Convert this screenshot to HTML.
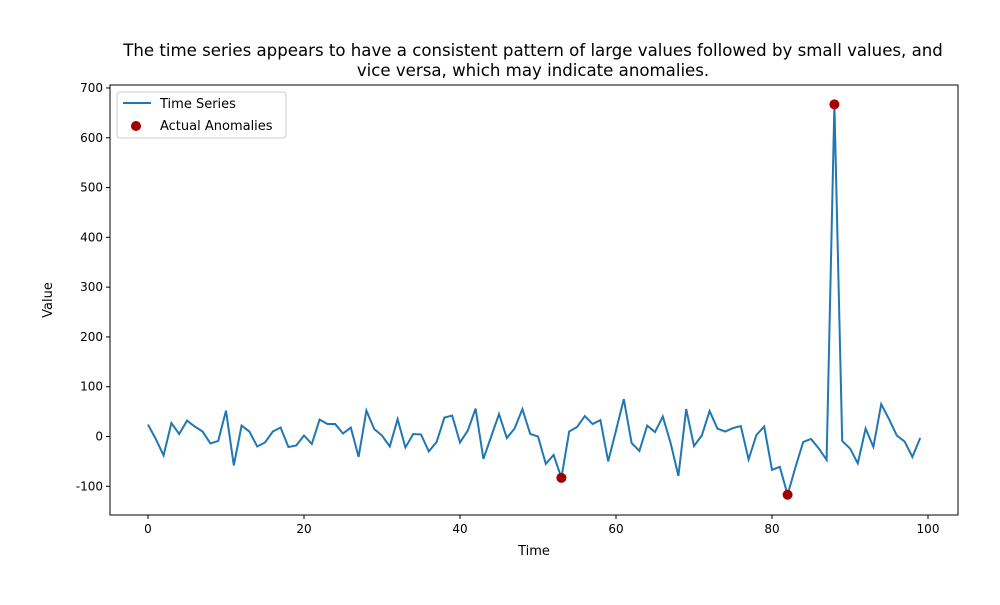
<!DOCTYPE html>
<html><head><meta charset="utf-8"><style>
body{margin:0;background:#fff;font-family:"Liberation Sans","DejaVu Sans",sans-serif}
svg text{font-family:"DejaVu Sans","Liberation Sans",sans-serif;fill:#000}
</style></head><body>
<svg id="chart" width="1000" height="600">
<rect width="1000" height="600" fill="#fff"/>
<g id="axes"></g>
</svg>
<script>
const values=[24,-5,-38,27,5,32,20,10,-14,-9,52,-58,22,10,-20,-12,10,18,-21,-18,2,-15,34,25,25,6,18,-41,52,15,2,-20,35,-22,5,4,-30,-11,38,42,-12,12,56,-45,0,45,-3,16,55,5,0,-55,-37,-83,10,19,41,25,33,-50,12,75,-13,-29,22,9,40,-13,-79,55,-19,2,51,16,10,17,21,-46,3,20,-67,-61,-117,-62,-11,-5,-24,-47,667,-9,-24,-54,16,-21,65,35,2,-10,-41,-3];
const anomalyIdx=[53,82,88];
const xTicks=[0,20,40,60,80,100];
const yTicks=[-100,0,100,200,300,400,500,600,700];
const L=110,R=958,T=85,B=515;
const xs=v=>148+v*7.8;
const ys=v=>436.5-v*0.4979;
const NS="http://www.w3.org/2000/svg";
const g=document.getElementById('axes');
function mk(t,a,p){const e=document.createElementNS(NS,t);for(const k in a)e.setAttribute(k,a[k]);(p||g).appendChild(e);return e;}
let pts=values.map((v,i)=>xs(i)+","+ys(v)).join(" ");
const line=mk('polyline',{points:pts,fill:'none',stroke:'#1f77b4','stroke-width':2});


anomalyIdx.forEach(i=>{const c=mk('circle',{cx:xs(i),cy:ys(values[i]),r:5,fill:'#a00000'});

});
const frame=mk('rect',{x:L,y:T,width:R-L,height:B-T,fill:'none',stroke:'#000','stroke-width':1});


xTicks.forEach(t=>{const x=xs(t);mk('line',{x1:x,x2:x,y1:B,y2:B+4,stroke:'#000'});
const tx=mk('text',{x:x,y:B+18,'text-anchor':'middle','font-size':12});tx.textContent=t;

});
yTicks.forEach(t=>{const y=ys(t);mk('line',{x1:L-4,x2:L,y1:y,y2:y,stroke:'#000'});
const tx=mk('text',{x:L-7,y:y+4,'text-anchor':'end','font-size':12});tx.textContent=t;

});
</script>
<svg style="position:absolute;left:0;top:0" width="1000" height="600">
<text x="533" y="56" text-anchor="middle" font-size="16.6">The time series appears to have a consistent pattern of large values followed by small values, and</text>
<text x="533" y="76" text-anchor="middle" font-size="16.6">vice versa, which may indicate anomalies.</text>
<text x="534" y="555" text-anchor="middle" font-size="13">Time</text>
<text x="52" y="300" text-anchor="middle" font-size="13" transform="rotate(-90 52 300)">Value</text>
<g>
<rect x="117" y="92" width="169" height="46" fill="#fff" stroke="#ccc" rx="3"/>
<line x1="123" y1="103" x2="151" y2="103" stroke="#1f77b4" stroke-width="2"/>
<text x="160" y="108" font-size="13">Time Series</text>
<circle cx="136" cy="126" r="5" fill="#a00000"/>
<text x="160" y="130" font-size="13">Actual Anomalies</text>
</g>
</svg>
</body></html>
